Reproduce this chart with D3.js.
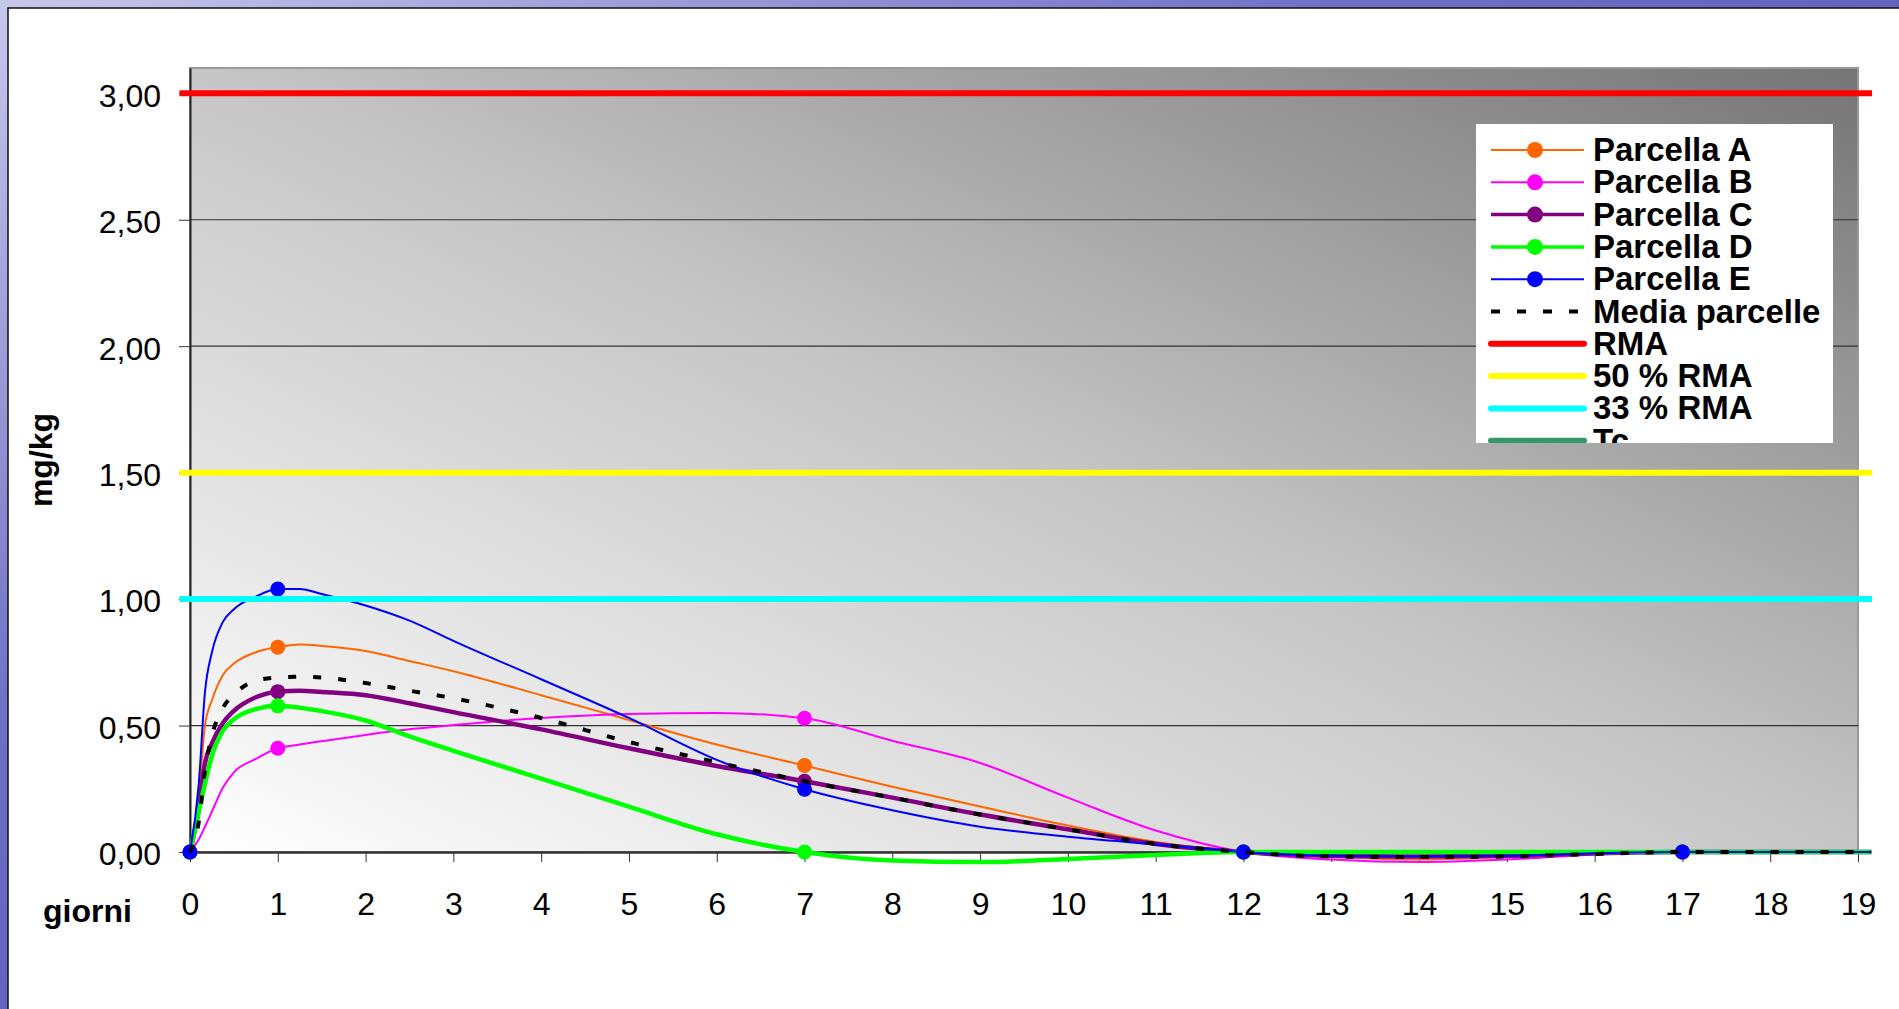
<!DOCTYPE html>
<html>
<head>
<meta charset="utf-8">
<script src="https://cdn.jsdelivr.net/npm/d3@7"></script>
<style>
  body { margin: 0; overflow: hidden; background: #fff; }
  svg { display: block; }
  text { font-family: "Liberation Sans", Arial, sans-serif; }
</style>
</head>
<body>
<svg width="1899" height="1009"></svg>
<script>
// giorni (x) where the curves were read
const giorni = [0, 0.1, 0.17, 0.25, 0.375, 0.5, 0.75, 1, 1.25, 1.5, 2, 2.5, 3, 4, 5, 6, 7, 8, 9, 10, 11, 12, 13, 14, 15, 16, 17, 18, 19.15];

const parcellaA = [0, 0.22, 0.5, 0.6, 0.7, 0.745, 0.79, 0.81, 0.82, 0.815, 0.795, 0.755, 0.715, 0.62, 0.522, 0.425, 0.342, 0.258, 0.18, 0.105, 0.04, 0, -0.02, -0.03, -0.02, -0.005, 0, 0, 0];
const parcellaB = [0, 0.05, 0.1, 0.16, 0.255, 0.315, 0.368, 0.41, 0.425, 0.438, 0.463, 0.485, 0.502, 0.53, 0.546, 0.55, 0.529, 0.44, 0.352, 0.215, 0.085, 0, -0.03, -0.04, -0.03, -0.01, 0, 0, 0];
const parcellaC = [0, 0.17, 0.35, 0.43, 0.51, 0.558, 0.612, 0.634, 0.638, 0.633, 0.62, 0.588, 0.553, 0.485, 0.41, 0.34, 0.28, 0.215, 0.148, 0.09, 0.032, 0, -0.015, -0.018, -0.015, -0.005, 0, 0, 0];
const parcellaD = [0, 0.16, 0.27, 0.38, 0.48, 0.525, 0.565, 0.578, 0.57, 0.557, 0.52, 0.457, 0.4, 0.29, 0.179, 0.07, 0, -0.034, -0.04, -0.028, -0.012, 0, 0, 0, 0, 0, 0, 0, 0];
const parcellaE = [0, 0.27, 0.63, 0.79, 0.91, 0.96, 1.01, 1.04, 1.04, 1.02, 0.975, 0.915, 0.835, 0.683, 0.53, 0.364, 0.248, 0.165, 0.1, 0.06, 0.03, 0, -0.015, -0.018, -0.015, -0.005, 0, 0, 0];
const mediaParcelle = [0, 0.12, 0.32, 0.46, 0.57, 0.622, 0.678, 0.69, 0.693, 0.69, 0.668, 0.638, 0.608, 0.53, 0.435, 0.355, 0.28, 0.215, 0.148, 0.09, 0.032, 0, -0.018, -0.02, -0.018, -0.008, 0, 0, 0];

// giorni di campionamento (marker)
const markerDays = [0, 1, 7, 12, 17];

// limiti
const limitX = [-0.12, 19.16];
const rma = 3.0;
const rma50 = 1.5;
const rma33 = 1.0;

const yTicks = [0, 0.5, 1, 1.5, 2, 2.5, 3];
const xTicks = [0, 1, 2, 3, 4, 5, 6, 7, 8, 9, 10, 11, 12, 13, 14, 15, 16, 17, 18, 19];

const legendNames = ['Parcella A', 'Parcella B', 'Parcella C', 'Parcella D', 'Parcella E', 'Media parcelle', 'RMA', '50 % RMA', '33 % RMA', 'Tc'];

const svg = d3.select('svg');
const defs = svg.append('defs');

// sfondo diapositiva
const bg = defs.append('linearGradient').attr('id', 'bg')
  .attr('x1', 0).attr('y1', 0).attr('x2', 1).attr('y2', 1);
bg.append('stop').attr('offset', 0).attr('stop-color', '#c8c8ec');
bg.append('stop').attr('offset', 0.35).attr('stop-color', '#7070c8');
bg.append('stop').attr('offset', 1).attr('stop-color', '#3a3aa0');

const plotBg = defs.append('linearGradient').attr('id', 'plotbg')
  .attr('x1', 0).attr('y1', 1).attr('x2', 1).attr('y2', 0);
plotBg.append('stop').attr('offset', 0).attr('stop-color', '#ffffff');
plotBg.append('stop').attr('offset', 0.5).attr('stop-color', '#c6c6c6');
plotBg.append('stop').attr('offset', 1).attr('stop-color', '#757575');

svg.append('rect').attr('width', 1899).attr('height', 1009).attr('fill', 'url(#bg)');
svg.append('rect').attr('x', 8).attr('y', 8).attr('width', 1895).attr('height', 1005)
  .attr('fill', '#fff').attr('stroke', '#111').attr('stroke-width', 1.5);

const x = d3.scaleLinear().domain([0, 19]).range([190, 1858]);
const y = d3.scaleLinear().domain([0, 3.1]).range([852, 68]);

// area del grafico
svg.append('rect')
  .attr('x', x(0)).attr('y', y(3.1))
  .attr('width', x(19) - x(0)).attr('height', y(0) - y(3.1))
  .attr('fill', 'url(#plotbg)').attr('stroke', '#999').attr('stroke-width', 2);

// griglia
svg.append('g').selectAll('line')
  .data(yTicks.filter(d => d > 0))
  .join('line')
  .attr('x1', x(0)).attr('x2', x(19))
  .attr('y1', d => y(d)).attr('y2', d => y(d))
  .attr('stroke', '#333').attr('stroke-width', 1.2);

const it = d3.formatLocale({decimal: ',', thousands: '.', grouping: [3], currency: ['€', '']});
const fmt = it.format('.2f');

const yAxis = svg.append('g')
  .attr('transform', `translate(${x(0)},0)`)
  .call(d3.axisLeft(y).tickValues(yTicks).tickFormat(fmt).tickSize(11).tickSizeOuter(0).tickPadding(18));
yAxis.select('.domain').attr('stroke', '#222').attr('stroke-width', 2);
yAxis.selectAll('.tick line').attr('stroke', '#333');
yAxis.selectAll('text').attr('font-size', 32).attr('font-family', '"Liberation Sans", Arial, sans-serif').attr('dy', '0.4em').attr('fill', '#000');

const xAxis = svg.append('g')
  .attr('transform', `translate(0,${y(0)})`)
  .call(d3.axisBottom(x).tickValues(xTicks).tickSize(10).tickSizeOuter(0).tickPadding(30));
xAxis.select('.domain').attr('stroke', '#333').attr('stroke-width', 2.5);
xAxis.selectAll('.tick line').attr('stroke', '#333');
xAxis.selectAll('text').attr('font-size', 32).attr('font-family', '"Liberation Sans", Arial, sans-serif').attr('fill', '#000');

// titoli assi
svg.append('text')
  .attr('transform', 'translate(52,460) rotate(-90)')
  .attr('text-anchor', 'middle')
  .attr('font-size', 32).attr('font-weight', 'bold')
  .text('mg/kg');
svg.append('text')
  .attr('x', 43).attr('y', 922)
  .attr('font-size', 32).attr('font-weight', 'bold')
  .text('giorni');

const series = [
  {name: 'Parcella A', values: parcellaA, color: '#ff6600', width: 2},
  {name: 'Parcella B', values: parcellaB, color: '#ff00ff', width: 2},
  {name: 'Parcella C', values: parcellaC, color: '#800080', width: 4.5},
  {name: 'Parcella D', values: parcellaD, color: '#00ff00', width: 4.5},
  {name: 'Parcella E', values: parcellaE, color: '#0000ff', width: 2}
];

const line = d3.line()
  .x(d => x(d[0]))
  .y(d => y(d[1]))
  .curve(d3.curveMonotoneX);

series.forEach(s => {
  const pts = giorni.map((g, i) => [g, s.values[i]]);
  svg.append('path')
    .attr('d', line(pts))
    .attr('fill', 'none')
    .attr('stroke', s.color)
    .attr('stroke-width', s.width)
    .attr('stroke-linejoin', 'round');
  svg.append('g').selectAll('circle')
    .data(pts.filter(p => markerDays.includes(p[0])))
    .join('circle')
    .attr('cx', d => x(d[0]))
    .attr('cy', d => y(d[1]))
    .attr('r', 7.5)
    .attr('fill', s.color);
});

// media
svg.append('path')
  .attr('d', line(giorni.map((g, i) => [g, mediaParcelle[i]])))
  .attr('fill', 'none')
  .attr('stroke', '#000')
  .attr('stroke-width', 4)
  .attr('stroke-dasharray', '8,17');

// linee limite
const limits = [
  {value: rma, color: '#ff0000'},
  {value: rma50, color: '#ffff00'},
  {value: rma33, color: '#00ffff'}
];
limits.forEach(l => {
  svg.append('path')
    .attr('d', d3.line()(limitX.map(v => [x(v), y(l.value)])))
    .attr('stroke', l.color)
    .attr('stroke-width', 6);
});

// legenda
const lg = {x: 1476, y: 124, w: 357, h: 319};
defs.append('clipPath').attr('id', 'lgclip')
  .append('rect').attr('x', lg.x).attr('y', lg.y).attr('width', lg.w).attr('height', lg.h);

const legend = svg.append('g').attr('clip-path', 'url(#lgclip)');
legend.append('rect')
  .attr('x', lg.x).attr('y', lg.y).attr('width', lg.w).attr('height', lg.h)
  .attr('fill', '#fff');

const legendStyle = [
  {color: '#ff6600', width: 2, marker: true},
  {color: '#ff00ff', width: 2, marker: true},
  {color: '#800080', width: 3.5, marker: true},
  {color: '#00ff00', width: 3.5, marker: true},
  {color: '#0000ff', width: 2, marker: true},
  {color: '#000', width: 4, dash: '9,17'},
  {color: '#ff0000', width: 6, cap: 'round'},
  {color: '#ffff00', width: 6, cap: 'round'},
  {color: '#00ffff', width: 6, cap: 'round'},
  {color: '#339966', width: 6, cap: 'round'}
];

const rows = legend.selectAll('g.row')
  .data(legendNames)
  .join('g')
  .attr('class', 'row')
  .attr('transform', (d, i) => `translate(0,${150 + i * 32.3})`);

rows.append('line')
  .attr('x1', 1491).attr('x2', 1584)
  .attr('stroke', (d, i) => legendStyle[i].color)
  .attr('stroke-width', (d, i) => legendStyle[i].width)
  .attr('stroke-linecap', (d, i) => legendStyle[i].cap || 'butt')
  .attr('stroke-dasharray', (d, i) => legendStyle[i].dash || null);

rows.filter((d, i) => legendStyle[i].marker)
  .append('circle')
  .attr('cx', 1535).attr('r', 8)
  .attr('fill', (d, i, n) => legendStyle[legendNames.indexOf(d)].color);

rows.append('text')
  .attr('x', 1593).attr('y', 11)
  .attr('font-size', 33).attr('font-weight', 'bold')
  .text(d => d);
</script>
</body>
</html>
